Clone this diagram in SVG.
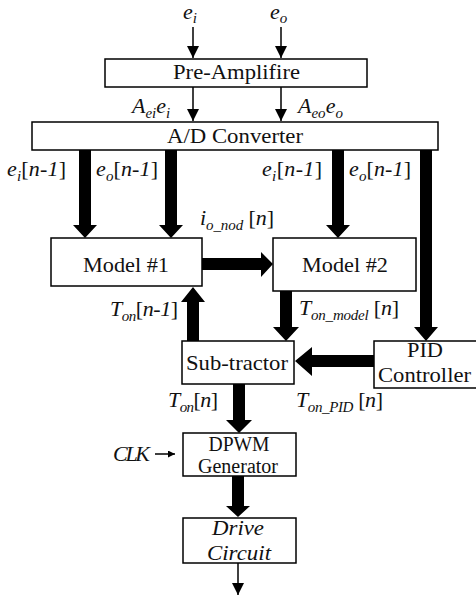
<svg xmlns="http://www.w3.org/2000/svg" width="476" height="599" viewBox="0 0 476 599">
<defs>
<style>
.box{fill:#fff;stroke:#000;stroke-width:1.5}
.lbl{font-family:'Liberation Serif','Times New Roman',Times,'DejaVu Serif',serif;font-size:22px;fill:#111;text-anchor:middle}
.two{font-size:20px}
.m{font-family:'Liberation Serif','Times New Roman',Times,'DejaVu Serif',serif;font-size:22px;fill:#111}
.it{font-style:italic}
.sub{font-size:15px;font-style:italic}
.thin{stroke:#000;stroke-width:1.5;fill:none}
.thick{fill:#000}
</style>
<marker id="ah" viewBox="0 0 12 12" refX="12" refY="6" markerWidth="12" markerHeight="12" markerUnits="userSpaceOnUse" orient="auto">
<path d="M0,0 L12,6 L0,12 Z" fill="#000"/>
</marker>
<marker id="ahs" viewBox="0 0 8 8" refX="8" refY="4" markerWidth="7" markerHeight="7" markerUnits="userSpaceOnUse" orient="auto">
<path d="M0,0 L8,4 L0,8 Z" fill="#000"/>
</marker>
</defs>
<rect width="476" height="599" fill="#fff"/>

<g id="connectors">
<line class="thin" x1="193" y1="27" x2="193" y2="58" marker-end="url(#ah)"/>
<line class="thin" x1="281" y1="27" x2="281" y2="58" marker-end="url(#ah)"/>
<line class="thin" x1="193" y1="87" x2="193" y2="121" marker-end="url(#ah)"/>
<line class="thin" x1="281" y1="87" x2="281" y2="121" marker-end="url(#ah)"/>
<line class="thin" x1="155" y1="454" x2="175" y2="454" marker-end="url(#ahs)"/>
<line class="thin" x1="238" y1="563" x2="238" y2="595" marker-end="url(#ah)"/>
<polygon class="thick" points="79,150 91,150 91,225 97,225 85,238 73,225 79,225"/>
<polygon class="thick" points="165,150 177,150 177,225 183,225 171,238 159,225 165,225"/>
<polygon class="thick" points="332,150 344,150 344,225 350,225 338,238 326,225 332,225"/>
<polygon class="thick" points="420,150 432,150 432,327 438,327 426,341 414,327 420,327"/>
<polygon class="thick" points="202,258 261,258 261,252 273,264 261,277 261,270 202,270"/>
<polygon class="thick" points="187,341 199,341 199,302 205,302 193,287 181,302 187,302"/>
<polygon class="thick" points="280,291 292,291 292,327 299,327 286,341 273,327 280,327"/>
<polygon class="thick" points="374,355 312,355 312,347 295,361 312,376 312,367 374,367"/>
<polygon class="thick" points="233,384 245,384 245,420 252,420 239,433 226,420 233,420"/>
<polygon class="thick" points="232,476 244,476 244,506 250,506 238,517 226,506 232,506"/>
</g>

<g id="preamp"><rect class="box" x="105" y="59" width="262" height="28"/><text class="lbl" x="236.5" y="79" textLength="127" lengthAdjust="spacingAndGlyphs">Pre-Amplifire</text></g>
<g id="adc"><rect class="box" x="32" y="122" width="406" height="28"/><text class="lbl" x="235" y="143" textLength="136" lengthAdjust="spacingAndGlyphs">A/D Converter</text></g>
<g id="model1"><rect class="box" x="51" y="238" width="151" height="48"/><text class="lbl" x="126" y="272" textLength="86" lengthAdjust="spacingAndGlyphs">Model #1</text></g>
<g id="model2"><rect class="box" x="273" y="238" width="143" height="53"/><text class="lbl" x="345" y="272" textLength="86" lengthAdjust="spacingAndGlyphs">Model #2</text></g>
<g id="subtractor"><rect class="box" x="182" y="341" width="112" height="43"/><text class="lbl" x="237" y="370" textLength="102" lengthAdjust="spacingAndGlyphs">Sub-tractor</text></g>
<g id="pid"><rect class="box" x="374" y="341" width="106" height="47"/><text class="lbl two" x="425" y="357" textLength="36" lengthAdjust="spacingAndGlyphs">PID</text><text class="lbl two" x="424.5" y="382" textLength="93" lengthAdjust="spacingAndGlyphs">Controller</text></g>
<g id="dpwm"><rect class="box" x="183" y="433" width="113" height="43"/><text class="lbl two" x="239" y="451" textLength="61" lengthAdjust="spacingAndGlyphs">DPWM</text><text class="lbl two" x="238" y="473" textLength="80" lengthAdjust="spacingAndGlyphs">Generator</text></g>
<g id="drive"><rect class="box" x="183" y="518" width="113" height="45"/><text class="lbl two it" x="238" y="535" textLength="52" lengthAdjust="spacingAndGlyphs">Drive</text><text class="lbl two it" x="239" y="560" textLength="64" lengthAdjust="spacingAndGlyphs">Circuit</text></g>

<g id="labels">
<text class="m it" x="183" y="19">e<tspan class="sub" dy="4">i</tspan></text>
<text class="m it" x="270" y="19">e<tspan class="sub" dy="4">o</tspan></text>
<text class="m it" x="132" y="113">A<tspan class="sub" dy="5">ei</tspan><tspan dy="-5">e</tspan><tspan class="sub" dy="5">i</tspan></text>
<text class="m it" x="298" y="113">A<tspan class="sub" dy="5">eo</tspan><tspan dy="-5">e</tspan><tspan class="sub" dy="5">o</tspan></text>
<text class="m" x="7" y="176" textLength="59"><tspan class="it">e</tspan><tspan class="sub" dy="5">i</tspan><tspan dy="-5">[</tspan><tspan class="it">n-1</tspan>]</text>
<text class="m" x="96" y="176" textLength="62"><tspan class="it">e</tspan><tspan class="sub" dy="5">o</tspan><tspan dy="-5">[</tspan><tspan class="it">n-1</tspan>]</text>
<text class="m" x="262" y="176" textLength="60"><tspan class="it">e</tspan><tspan class="sub" dy="5">i</tspan><tspan dy="-5">[</tspan><tspan class="it">n-1</tspan>]</text>
<text class="m" x="349" y="176" textLength="62"><tspan class="it">e</tspan><tspan class="sub" dy="5">o</tspan><tspan dy="-5">[</tspan><tspan class="it">n-1</tspan>]</text>
<text class="m" x="200" y="225" textLength="74"><tspan class="it">i</tspan><tspan class="sub" dy="5">o_nod</tspan><tspan dy="-5"> [</tspan><tspan class="it">n</tspan>]</text>
<text class="m" x="110" y="316" textLength="68"><tspan class="it">T</tspan><tspan class="sub" dy="5">on</tspan><tspan dy="-5">[</tspan><tspan class="it">n-1</tspan>]</text>
<text class="m" x="299" y="315" textLength="100"><tspan class="it">T</tspan><tspan class="sub" dy="5">on_model</tspan><tspan dy="-5"> [</tspan><tspan class="it">n</tspan>]</text>
<text class="m" x="168" y="407" textLength="50"><tspan class="it">T</tspan><tspan class="sub" dy="5">on</tspan><tspan dy="-5">[</tspan><tspan class="it">n</tspan>]</text>
<text class="m" x="296" y="407" textLength="87"><tspan class="it">T</tspan><tspan class="sub" dy="5">on_PID</tspan><tspan dy="-5"> [</tspan><tspan class="it">n</tspan>]</text>
<text class="m it" x="113" y="461" textLength="37">CLK</text>
</g>
</svg>
